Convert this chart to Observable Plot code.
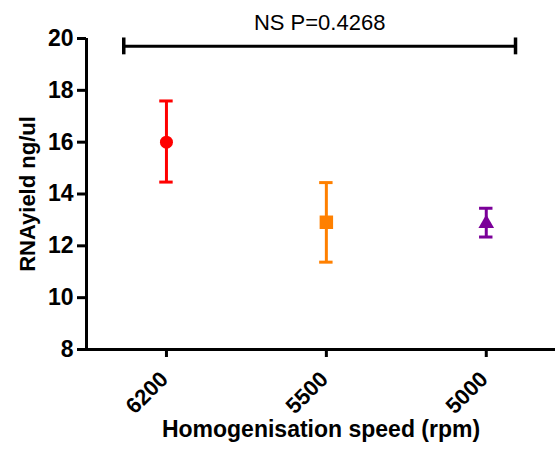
<!DOCTYPE html>
<html>
<head>
<meta charset="utf-8">
<script src="https://cdn.jsdelivr.net/npm/d3@7"></script>
<script src="https://cdn.jsdelivr.net/npm/@observablehq/plot@0.6"></script>
<style>
  html, body { margin: 0; padding: 0; background: #fff; }
  #chart svg { font-family: "Liberation Sans", Arial, sans-serif; display: block; }
</style>
</head>
<body>
<div id="chart"></div>
<script>
// Categories (homogenisation speed, rpm) and their summary values
const categories = ["6200", "5500", "5000"];
const means = [16.0, 12.91, 12.86];
const lowers = [14.46, 11.37, 12.34];
const uppers = [17.59, 14.44, 13.45];
const colors = ["#FF0000", "#FF8000", "#7B0099"];
const symbols = ["circle", "square", "triangle"];
const markerR = [6.5, 7.6, 5.8];

// Y axis ticks
const yTicks = [8, 10, 12, 14, 16, 18, 20];

// Significance annotation (bar spans from left of first to right of last group)
const sigBar = [{x1: 0.733, x2: 3.183, y: 19.70, yLo: 19.37, yHi: 20.02, label: "NS P=0.4268", labelY: 20.33}];

const capHalf = 0.042; // half-width of error bar caps (x units)

const data = categories.map((c, i) => ({
  cat: c, pos: i + 1, mean: means[i], lo: lowers[i], hi: uppers[i],
  color: colors[i], symbol: symbols[i], r: markerR[i]
}));

const chart = Plot.plot({
  width: 555,
  height: 451,
  marginLeft: 86,
  marginRight: 0,
  marginTop: 38,
  marginBottom: 102,
  style: {fontFamily: "Liberation Sans, Arial, sans-serif", color: "#000", background: "#fff", overflow: "visible"},
  x: {domain: [0.5, 3.433], axis: null},
  y: {domain: [8, 20], axis: null},
  symbol: {type: "identity"},
  r: {type: "identity"},
  marks: [
    // Axes
    Plot.axisY({ticks: yTicks, tickSize: 9, tickPadding: 4, strokeWidth: 3, label: null, fontSize: 23, fontWeight: "bold"}),
    Plot.axisX({ticks: [1, 2, 3], tickFormat: () => "", tickSize: 8, strokeWidth: 3, label: null}),
    Plot.axisX({ticks: [1, 2, 3], tickFormat: d => categories[d - 1], tickSize: 0, tickPadding: 22,
      tickRotate: -45, label: null, fontSize: 22, fontWeight: "bold", dx: -2, dy: 4}),
    Plot.ruleX([0.5], {y1: 8, y2: 20, strokeWidth: 3}),
    Plot.ruleY([8], {strokeWidth: 3}),
    // Error bars
    Plot.ruleX(data, {x: "pos", y1: "lo", y2: "hi", stroke: "color", strokeWidth: 3}),
    Plot.ruleY(data, {y: "lo", x1: d => d.pos - capHalf, x2: d => d.pos + capHalf, stroke: "color", strokeWidth: 3}),
    Plot.ruleY(data, {y: "hi", x1: d => d.pos - capHalf, x2: d => d.pos + capHalf, stroke: "color", strokeWidth: 3}),
    // Markers
    Plot.dot(data, {x: "pos", y: "mean", fill: "color", symbol: "symbol", r: "r", stroke: null}),
    // Significance bar
    Plot.ruleY(sigBar, {y: "y", x1: "x1", x2: "x2", strokeWidth: 3}),
    Plot.ruleX(sigBar, {x: "x1", y1: "yLo", y2: "yHi", strokeWidth: 3.5}),
    Plot.ruleX(sigBar, {x: "x2", y1: "yLo", y2: "yHi", strokeWidth: 3.5}),
    Plot.text(sigBar, {x: d => (d.x1 + d.x2) / 2, y: "labelY", text: "label", fontSize: 22, fontWeight: "normal", lineAnchor: "bottom"}),
    // Axis labels
    Plot.text(["Homogenisation speed (rpm)"], {frameAnchor: "bottom", dy: 87, fontSize: 23, fontWeight: "bold"}),
    Plot.text(["RNAyield ng/ul"], {frameAnchor: "left", textAnchor: "middle", dx: -59, rotate: -90, fontSize: 22, fontWeight: "bold"})
  ]
});

document.getElementById("chart").appendChild(chart);
</script>
</body>
</html>
